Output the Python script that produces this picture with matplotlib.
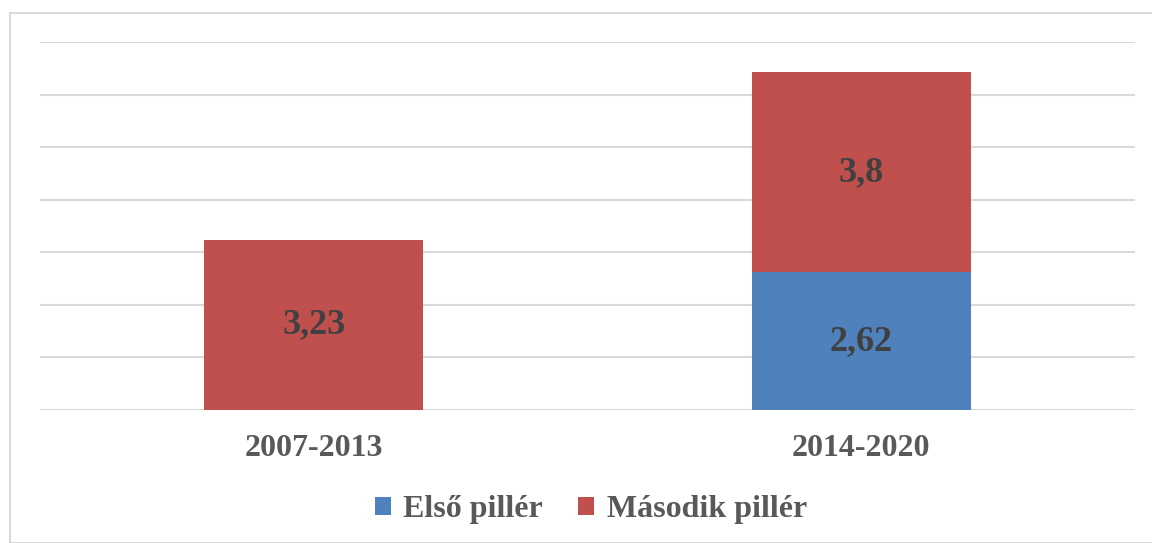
import matplotlib
matplotlib.use("Agg")
import matplotlib.pyplot as plt
from matplotlib.patches import Rectangle

# ── 資料 ──
periods = ["2007-2013", "2014-2020"]
elso_piller = [0.0, 2.62]
masodik_piller = [3.23, 3.8]
elso_labels = ["", "2,62"]
masodik_labels = ["3,23", "3,8"]

BLUE = "#4F81BD"
RED = "#C0504D"
TEXT = "#595959"
LABEL = "#404040"

plt.rcParams["font.family"] = ["Liberation Serif", "DejaVu Serif"]
plt.rcParams["font.weight"] = "bold"

fig = plt.figure(figsize=(11.52, 5.43), dpi=100)
ax = fig.add_axes([0.0347, 0.2449, 0.9505, 0.6778])

x = list(range(len(periods)))
b1 = ax.bar(x, elso_piller, width=0.4, color=BLUE, label="Első pillér", zorder=3)
b2 = ax.bar(x, masodik_piller, width=0.4, bottom=elso_piller, color=RED,
            label="Második pillér", zorder=3)

ax.bar_label(b1, labels=elso_labels, label_type="center", fontsize=26,
             fontweight="bold", color=LABEL)
ax.bar_label(b2, labels=masodik_labels, label_type="center", fontsize=26,
             fontweight="bold", color=LABEL)

ax.set_xlim(-0.5, 1.5)
ax.set_ylim(0, 7)
ax.set_yticks(range(0, 8))
ax.set_yticklabels([])
ax.tick_params(axis="y", length=0)
ax.tick_params(axis="x", length=0, pad=17, labelsize=23, labelcolor=TEXT)
ax.set_xticks(x)
ax.set_xticklabels(periods, fontweight="bold")
ax.grid(axis="y", color="#D9D9D9", linewidth=1.5, zorder=0)
for s in ax.spines.values():
    s.set_visible(False)

leg = fig.legend(loc="center", bbox_to_anchor=(0.513, 1 - 510 / 543), ncol=2,
                 frameon=False, fontsize=23, handlelength=0.5, handleheight=0.5,
                 handletextpad=0.4, columnspacing=1.1)
for t in leg.get_texts():
    t.set_color(TEXT)
    t.set_fontweight("bold")

# 外框
fig.patches.append(Rectangle((10 / 1152, 0), 1.2, 1 - 13 / 543,
                             transform=fig.transFigure, fill=False,
                             edgecolor="#D9D9D9", linewidth=1.5))

fig.savefig("out.png", dpi=100)
